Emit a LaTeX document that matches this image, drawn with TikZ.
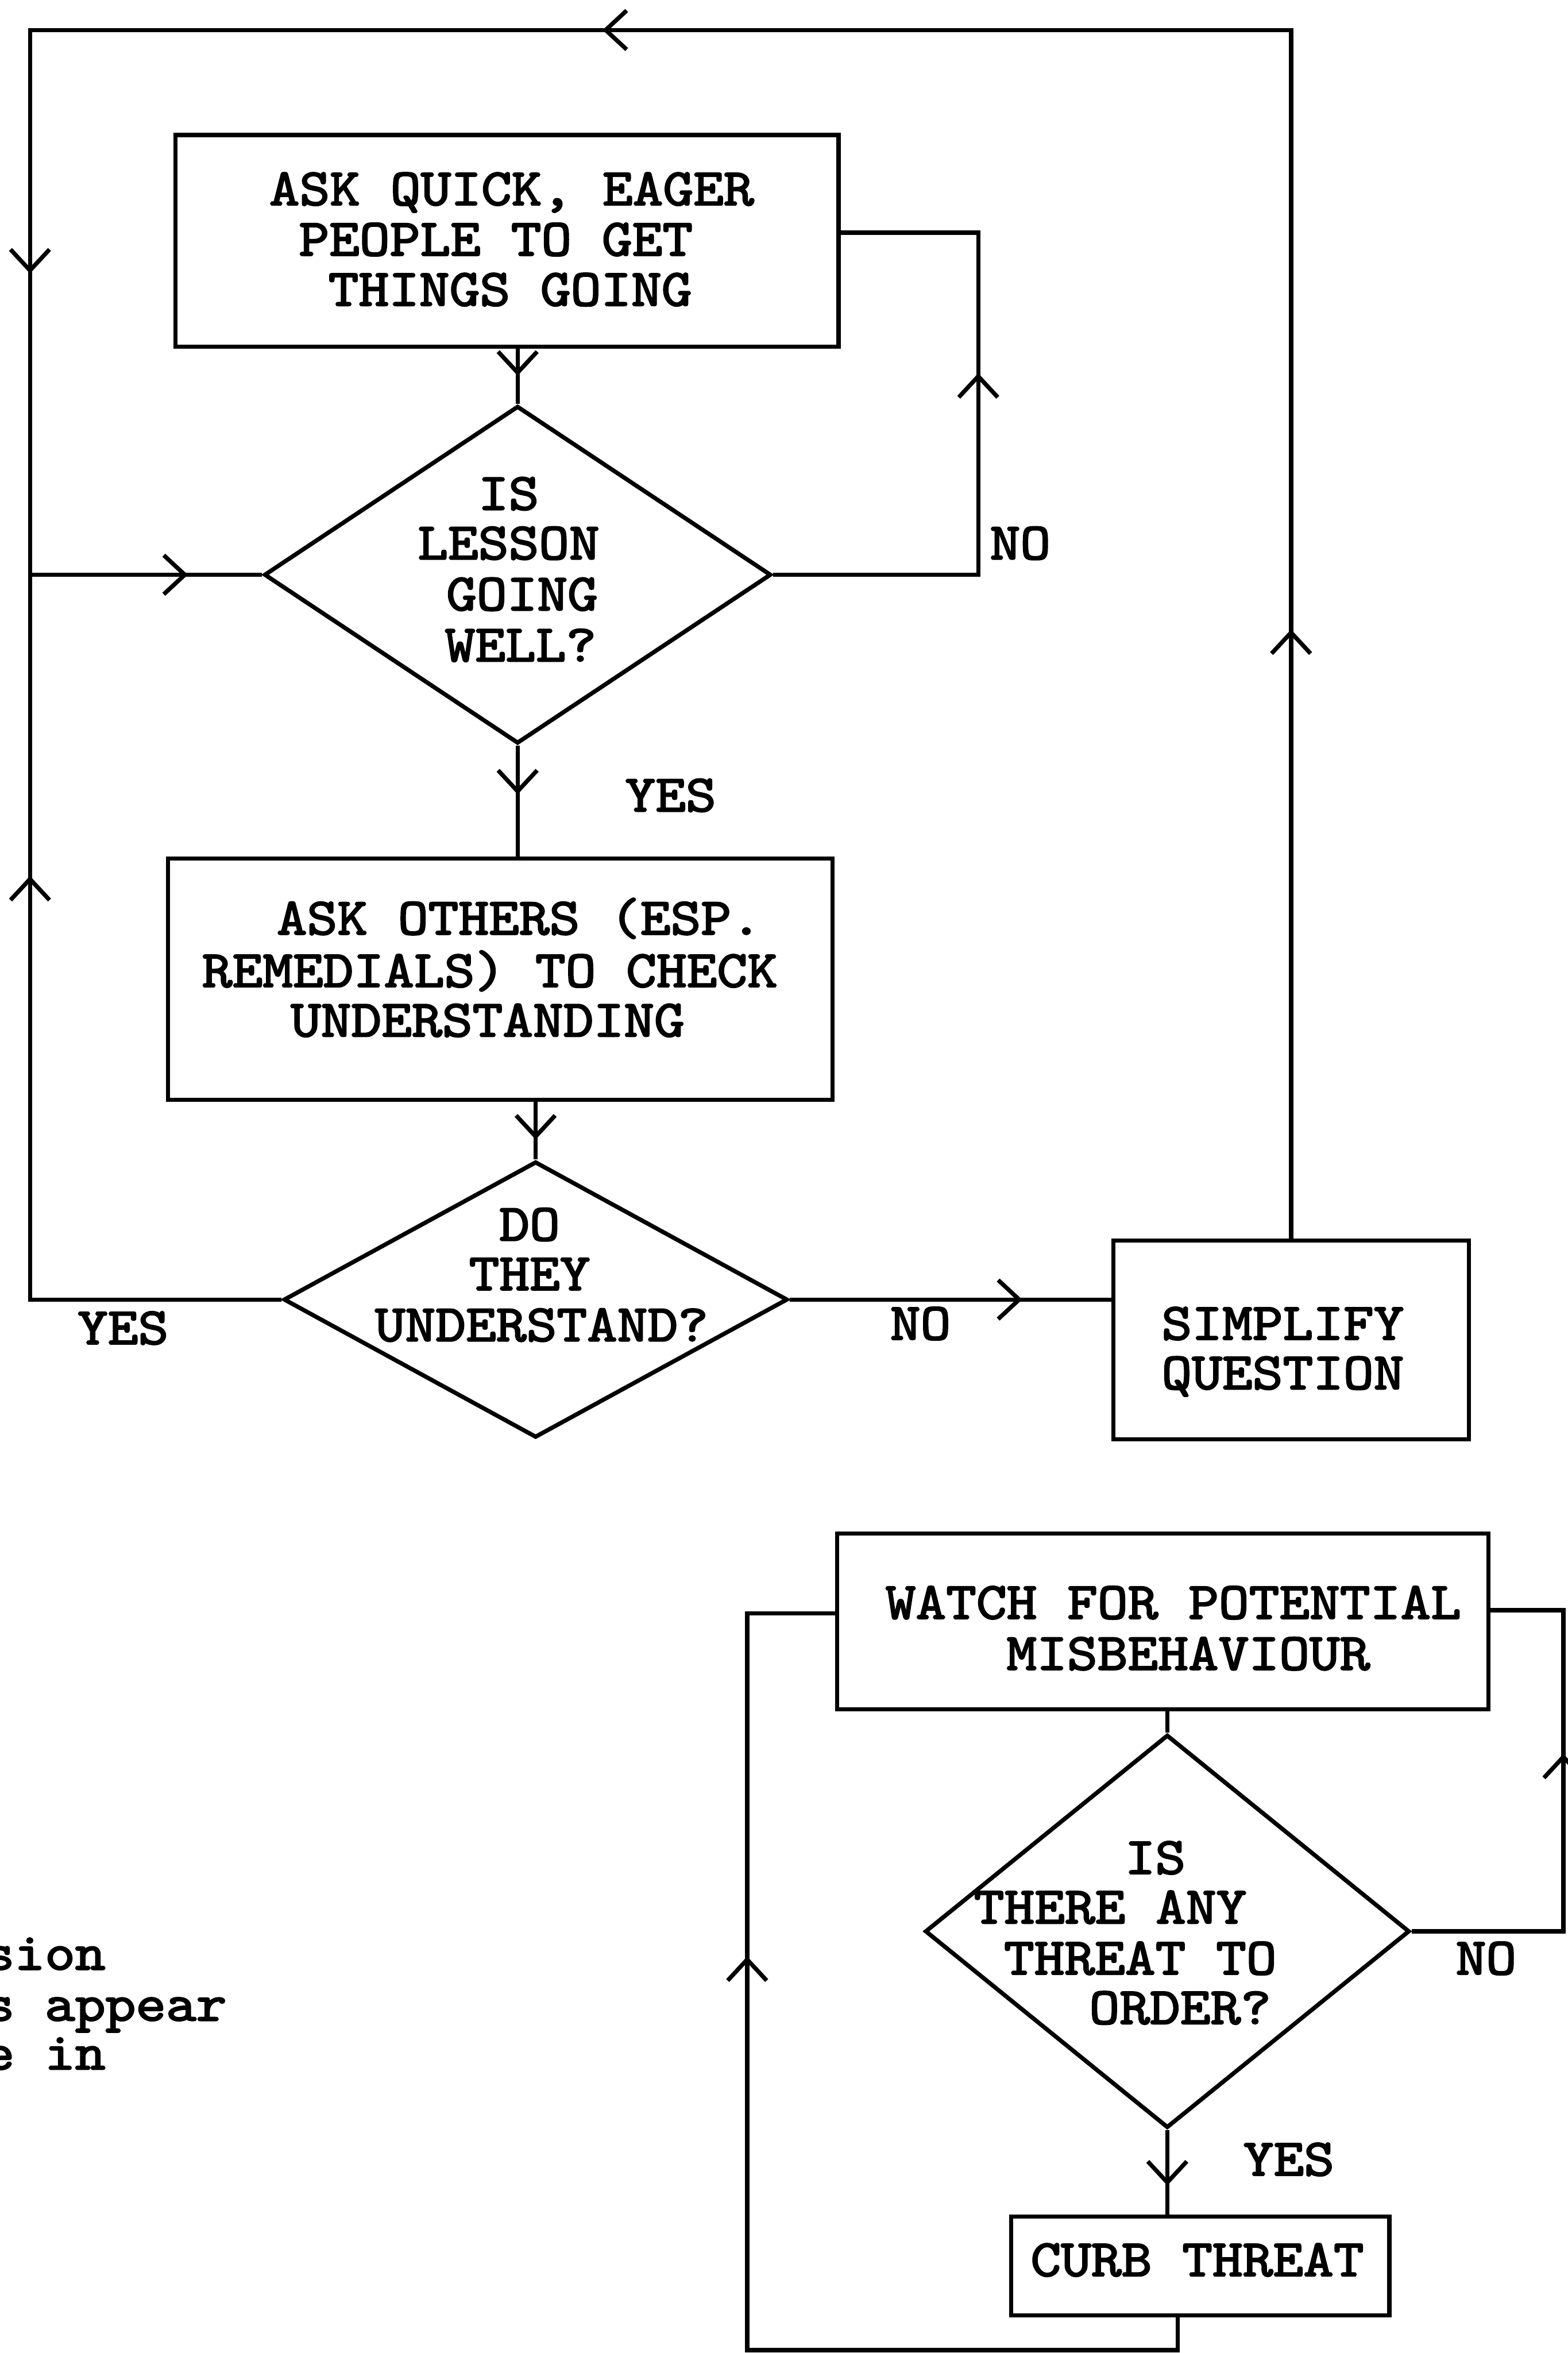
\documentclass[tikz,border=0pt]{standalone}
\usepackage{fontspec}
\usetikzlibrary{shapes.geometric,arrows.meta,decorations.markings}
\font\twf="[lmmono10-regular]:embolden=2.5" at 19.9pt
\begin{document}
\begin{tikzpicture}[x=0.02cm,y=-0.02cm,line width=1.6pt,
  boxn/.style={draw,rectangle,inner sep=0pt},
  dmd/.style={draw,diamond,inner sep=0pt},
  tw/.style={font=\twf,xscale=1.1,inner sep=0pt,anchor=base},
  frag/.style={tw,anchor=base west},
  mk/.style={postaction={decorate,decoration={markings,mark=at position #1 with {\arrow{Straight Barb[length=0.28cm,width=0.52cm]}}}}}]
\useasboundingbox (0,0) rectangle (1045,1568);
\clip (0,0) rectangle (1045,1568);

% shapes
\node[boxn,minimum width=8.84cm,minimum height=2.82cm] (b1) at (338,160.5) {};
\node[dmd,minimum width=6.76cm,minimum height=4.5cm] (d1) at (345,383) {};
\node[boxn,minimum width=8.86cm,minimum height=3.22cm] (b2) at (333.5,652.5) {};
\node[dmd,minimum width=6.72cm,minimum height=3.68cm] (d2) at (357,866) {};
\node[boxn,minimum width=4.74cm,minimum height=2.65cm] (b3) at (860.5,893) {};
\node[boxn,minimum width=8.68cm,minimum height=2.34cm] (b4) at (775,1080.5) {};
\node[dmd,minimum width=6.46cm,minimum height=5.24cm] (d3) at (778,1287) {};
\node[boxn,minimum width=5.04cm,minimum height=1.32cm] (b5) at (800,1510) {};

% texts
\node[tw] (t1a) at (341,136.7) {ASK QUICK, EAGER};
\node[tw] (t1b) at (330.5,170.3) {PEOPLE TO GET};
\node[tw] (t1c) at (340,203.7) {THINGS GOING};

\node[tw] (q1a) at (339,339.7) {IS};
\node[tw] (q1b) at (339,372.7) {LESSON};
\node[tw] (q1c) at (348,406.7) {GOING};
\node[tw] (q1d) at (347,440.7) {WELL?};
\node[tw] (n1) at (680,372.7) {NO};
\node[tw] (y1) at (447,540.7) {YES};

\node[tw] (t2a) at (346,622.7) {ASK OTHERS (ESP.};
\node[tw] (t2b) at (326.5,657.7) {REMEDIALS) TO CHECK};
\node[tw] (t2c) at (325,690.7) {UNDERSTANDING};

\node[tw] (q2a) at (353,826.7) {DO};
\node[tw] (q2b) at (353,859.7) {THEY};
\node[tw] (q2c) at (361,893.7) {UNDERSTAND?};
\node[tw] (y2) at (82,895.7) {YES};
\node[tw] (n2) at (613.5,892.7) {NO};

\node[tw] (t3a) at (855,892.7) {SIMPLIFY};
\node[tw] (t3b) at (855,925.7) {QUESTION};

\node[tw] (t4a) at (782,1078.7) {WATCH FOR POTENTIAL};
\node[tw] (t4b) at (792,1112.7) {MISBEHAVIOUR};

\node[tw] (q3a) at (770,1248.7) {IS};
\node[tw] (q3b) at (740,1281.7) {THERE ANY};
\node[tw] (q3c) at (760,1315.7) {THREAT TO};
\node[tw] (q3d) at (786.6,1348.7) {ORDER?};
\node[tw] (n3) at (990.5,1315.7) {NO};
\node[tw] (y3) at (859,1449.7) {YES};

\node[tw] (t5) at (798,1516.7) {CURB THREAT};

\node[frag] (f1) at (-12,1312.5) {sion};
\node[frag] (f2) at (-12,1346.5) {s appear};
\node[frag] (f3) at (-12,1379) {e in};

% bend points
\coordinate (cTR) at (860.5,20);
\coordinate (cTL) at (20,20);
\coordinate (cJ) at (20,383);
\coordinate (cYL) at (20,866);
\coordinate (cN1) at (652,383);
\coordinate (cN2) at (652,155);
\coordinate (cR1) at (1042,1287);
\coordinate (cR2) at (1042,1073);
\coordinate (cB1) at (785,1566);
\coordinate (cB2) at (498,1566);
\coordinate (cB3) at (498,1075);

% connectors
\draw[mk=8.12cm,mk=25.29cm,mk=36.17cm,mk=42.29cm] (b3.north) -- (b3.north |- cTR) -- (cTL) -- (cJ) -- (d1.west);
\draw[mk=9.0cm] (d2.west) -- (cYL) -- (cJ);
\draw[mk=5.42cm] (d1.east) -- (cN1) -- (cN2) -- (b1.east |- cN2);
\draw[mk=0.36cm] (d1.north |- b1.south) -- (d1.north);
\draw[mk=0.65cm] (d1.south) -- (d1.south |- b2.north);
\draw[mk=0.5cm] (d2.north |- b2.south) -- (d2.north);
\draw[mk=3.1cm] (d2.east) -- (d2.east -| b3.west);
\draw[mk=0.32cm] (d3.north |- b4.south) -- (d3.north);
\draw[mk=4.39cm] (d3.east) -- (cR1) -- (cR2) -- (b4.east |- cR2);
\draw[mk=0.74cm] (d3.south) -- (d3.south |- b5.north);
\draw[mk=11.42cm] (b5.south -| cB1) -- (cB1) -- (cB2) -- (cB3) -- (b4.west |- cB3);
\end{tikzpicture}
\end{document}
